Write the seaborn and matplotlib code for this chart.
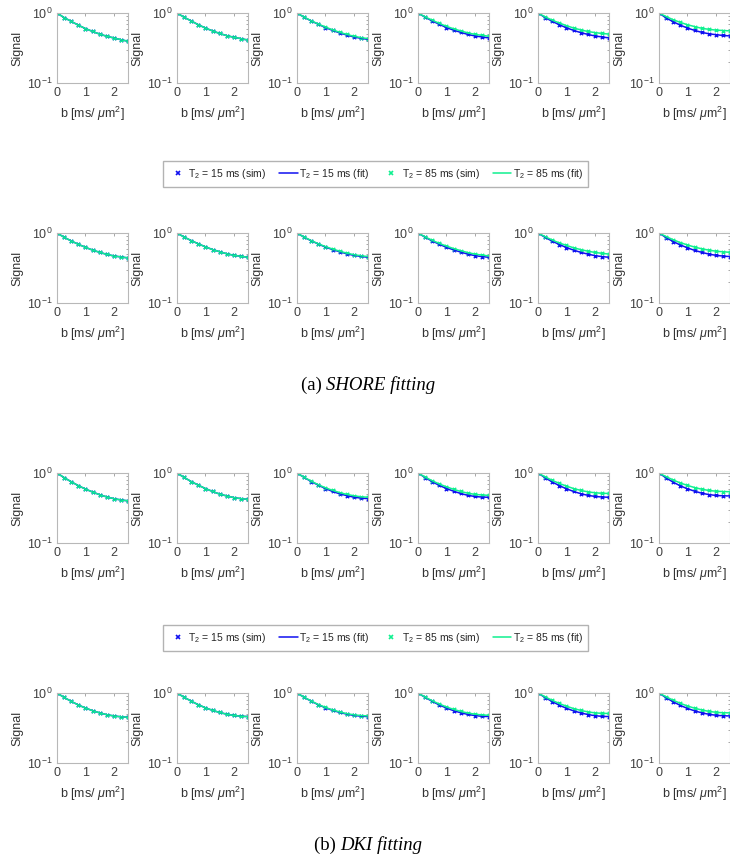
import numpy as np
import pandas as pd
import matplotlib
matplotlib.use("Agg")
import matplotlib.pyplot as plt
from matplotlib.lines import Line2D
from matplotlib.ticker import NullFormatter, LogLocator
import seaborn as sns

# b-values of the simulated points [ms/um^2]
b_values = [0.0, 0.25, 0.5, 0.75, 1.0, 1.25, 1.5, 1.75, 2.0, 2.25, 2.5]

legend_labels = [r"T$_2$ = 15 ms (sim)", r"T$_2$ = 15 ms (fit)",
                 r"T$_2$ = 85 ms (sim)", r"T$_2$ = 85 ms (fit)"]
captions = [("(a) ", "SHORE fitting"), ("(b) ", "DKI fitting")]

# signal curves, one list per column (6 columns)
shore_top_15 = [
    [1.0, 0.86, 0.76, 0.67, 0.60, 0.545, 0.50, 0.465, 0.44, 0.415, 0.395],
    [1.0, 0.87, 0.77, 0.68, 0.61, 0.555, 0.51, 0.475, 0.45, 0.43, 0.41],
    [1.0, 0.87, 0.77, 0.69, 0.62, 0.565, 0.52, 0.485, 0.455, 0.435, 0.42],
    [1.0, 0.87, 0.77, 0.69, 0.62, 0.57, 0.53, 0.495, 0.47, 0.455, 0.44],
    [1.0, 0.86, 0.76, 0.68, 0.615, 0.565, 0.525, 0.495, 0.47, 0.455, 0.44],
    [1.0, 0.85, 0.75, 0.67, 0.61, 0.565, 0.53, 0.505, 0.49, 0.478, 0.47],
]
shore_top_85 = [
    [1.0, 0.86, 0.76, 0.67, 0.60, 0.545, 0.50, 0.465, 0.44, 0.415, 0.395],
    [1.0, 0.87, 0.77, 0.68, 0.61, 0.555, 0.51, 0.475, 0.45, 0.43, 0.41],
    [1.0, 0.875, 0.775, 0.695, 0.63, 0.575, 0.53, 0.495, 0.465, 0.445, 0.43],
    [1.0, 0.88, 0.79, 0.71, 0.645, 0.595, 0.555, 0.52, 0.495, 0.48, 0.465],
    [1.0, 0.88, 0.79, 0.72, 0.66, 0.61, 0.575, 0.545, 0.525, 0.51, 0.50],
    [1.0, 0.89, 0.80, 0.735, 0.68, 0.64, 0.605, 0.585, 0.57, 0.562, 0.555],
]
shore_bot_15 = [
    [1.0, 0.87, 0.77, 0.69, 0.625, 0.57, 0.53, 0.495, 0.47, 0.455, 0.44],
    [1.0, 0.875, 0.78, 0.70, 0.635, 0.58, 0.54, 0.505, 0.48, 0.465, 0.45],
    [1.0, 0.87, 0.775, 0.695, 0.63, 0.58, 0.54, 0.505, 0.48, 0.463, 0.45],
    [1.0, 0.87, 0.77, 0.69, 0.625, 0.575, 0.535, 0.50, 0.475, 0.46, 0.45],
    [1.0, 0.865, 0.765, 0.685, 0.62, 0.57, 0.53, 0.50, 0.475, 0.46, 0.45],
    [1.0, 0.86, 0.755, 0.675, 0.615, 0.565, 0.53, 0.50, 0.48, 0.468, 0.46],
]
shore_bot_85 = [
    [1.0, 0.87, 0.77, 0.69, 0.625, 0.57, 0.53, 0.495, 0.47, 0.455, 0.44],
    [1.0, 0.875, 0.78, 0.70, 0.635, 0.58, 0.54, 0.505, 0.48, 0.465, 0.45],
    [1.0, 0.875, 0.78, 0.70, 0.64, 0.59, 0.55, 0.515, 0.49, 0.473, 0.46],
    [1.0, 0.88, 0.785, 0.71, 0.65, 0.60, 0.56, 0.525, 0.50, 0.483, 0.47],
    [1.0, 0.885, 0.795, 0.72, 0.665, 0.615, 0.58, 0.55, 0.528, 0.512, 0.50],
    [1.0, 0.89, 0.80, 0.73, 0.675, 0.63, 0.595, 0.57, 0.55, 0.538, 0.53],
]
dki_top_15 = [
    [1.0, 0.86, 0.75, 0.66, 0.59, 0.535, 0.49, 0.455, 0.43, 0.412, 0.40],
    [1.0, 0.865, 0.755, 0.67, 0.60, 0.545, 0.50, 0.47, 0.445, 0.43, 0.42],
    [1.0, 0.865, 0.755, 0.67, 0.60, 0.545, 0.505, 0.475, 0.452, 0.438, 0.43],
    [1.0, 0.86, 0.75, 0.665, 0.60, 0.55, 0.51, 0.48, 0.462, 0.453, 0.45],
    [1.0, 0.855, 0.745, 0.66, 0.595, 0.545, 0.507, 0.48, 0.463, 0.454, 0.45],
    [1.0, 0.85, 0.74, 0.655, 0.595, 0.55, 0.515, 0.492, 0.478, 0.472, 0.47],
]
dki_top_85 = [
    [1.0, 0.86, 0.75, 0.66, 0.59, 0.535, 0.49, 0.455, 0.43, 0.412, 0.40],
    [1.0, 0.865, 0.755, 0.67, 0.60, 0.545, 0.50, 0.47, 0.445, 0.43, 0.42],
    [1.0, 0.87, 0.765, 0.68, 0.615, 0.565, 0.525, 0.495, 0.473, 0.458, 0.45],
    [1.0, 0.875, 0.775, 0.695, 0.635, 0.585, 0.545, 0.515, 0.495, 0.485, 0.48],
    [1.0, 0.88, 0.785, 0.71, 0.65, 0.60, 0.565, 0.538, 0.522, 0.513, 0.51],
    [1.0, 0.885, 0.795, 0.72, 0.665, 0.62, 0.587, 0.563, 0.55, 0.543, 0.54],
]
dki_bot_15 = [
    [1.0, 0.865, 0.76, 0.675, 0.61, 0.56, 0.52, 0.49, 0.47, 0.457, 0.45],
    [1.0, 0.87, 0.765, 0.68, 0.615, 0.565, 0.527, 0.498, 0.478, 0.466, 0.46],
    [1.0, 0.868, 0.763, 0.68, 0.615, 0.566, 0.528, 0.499, 0.479, 0.467, 0.46],
    [1.0, 0.865, 0.76, 0.675, 0.61, 0.56, 0.523, 0.495, 0.476, 0.465, 0.46],
    [1.0, 0.86, 0.755, 0.67, 0.605, 0.556, 0.52, 0.493, 0.474, 0.464, 0.46],
    [1.0, 0.855, 0.75, 0.665, 0.603, 0.556, 0.522, 0.497, 0.481, 0.473, 0.47],
]
dki_bot_85 = [
    [1.0, 0.865, 0.76, 0.675, 0.61, 0.56, 0.52, 0.49, 0.47, 0.457, 0.45],
    [1.0, 0.87, 0.765, 0.68, 0.615, 0.565, 0.527, 0.498, 0.478, 0.466, 0.46],
    [1.0, 0.872, 0.768, 0.685, 0.622, 0.573, 0.536, 0.507, 0.488, 0.476, 0.47],
    [1.0, 0.875, 0.775, 0.695, 0.632, 0.584, 0.546, 0.518, 0.498, 0.486, 0.48],
    [1.0, 0.88, 0.785, 0.708, 0.648, 0.60, 0.565, 0.538, 0.52, 0.512, 0.51],
    [1.0, 0.882, 0.788, 0.712, 0.653, 0.607, 0.573, 0.547, 0.53, 0.522, 0.52],
]

col_15 = "#1010f0"
col_85 = "#10f090"

sns.set_theme(style="white")
plt.rcParams['font.family'] = ['Liberation Sans', 'DejaVu Sans']
plt.rcParams['mathtext.fontset'] = 'custom'
plt.rcParams['mathtext.rm'] = 'Liberation Sans'
plt.rcParams['mathtext.it'] = 'Liberation Sans:italic'

W, H = 730, 857
fig = plt.figure(figsize=(W / 100, H / 100), dpi=100)

col_left = [57, 177, 297, 418, 538, 659]
row_top = [13, 233, 473, 693]
ax_w, ax_h = 71, 70

rows = [(shore_top_15, shore_top_85), (shore_bot_15, shore_bot_85),
        (dki_top_15, dki_top_85), (dki_bot_15, dki_bot_85)]

for r, (c15, c85) in enumerate(rows):
    for j in range(6):
        ax = fig.add_axes([col_left[j] / W, 1 - (row_top[r] + ax_h) / H, ax_w / W, ax_h / H])
        for vals, col in [(c15[j], col_15), (c85[j], col_85)]:
            df = pd.DataFrame({"b": b_values, "S": vals})
            sns.lineplot(data=df, x="b", y="S", color=col, linewidth=1.1, ax=ax)
            sns.scatterplot(data=df, x="b", y="S", color=col, marker="x", s=6,
                            linewidth=1.0, ax=ax)
        ax.set_yscale("log")
        ax.set_xlim(0, 2.5)
        ax.set_ylim(0.1, 1)
        ax.set_xticks([0, 1, 2])
        ax.set_xticklabels(["0", "1", "2"])
        ax.set_yticks([0.1, 1])
        ax.yaxis.set_minor_locator(LogLocator(base=10, subs=np.arange(2, 10)))
        ax.yaxis.set_minor_formatter(NullFormatter())
        ax.tick_params(which="both", direction="in", top=True, right=True,
                       colors="0.6", labelcolor="0.25", labelsize=9, width=0.6)
        ax.tick_params(which="major", length=2.5, pad=3)
        ax.tick_params(which="minor", length=1.5)
        for sp in ax.spines.values():
            sp.set_color("0.72")
            sp.set_linewidth(0.8)
        ax.set_xlabel(r"b [ms/ $\mu$m$^2$]", fontsize=9, color="0.2", labelpad=4)
        ax.set_ylabel("Signal", fontsize=9, color="0.2", labelpad=3)

# legends
handles = [
    Line2D([], [], color=col_15, marker="x", linestyle="none", markersize=2.5, markeredgewidth=1.2),
    Line2D([], [], color=col_15, linewidth=1.1),
    Line2D([], [], color=col_85, marker="x", linestyle="none", markersize=2.5, markeredgewidth=1.2),
    Line2D([], [], color=col_85, linewidth=1.1),
]
for yc in [174, 638]:
    fig.legend(handles, legend_labels, loc="center", ncol=4,
               bbox_to_anchor=(375.5 / W, 1 - yc / H), fontsize=7.5, frameon=True,
               fancybox=False, edgecolor="0.7", framealpha=1, handlelength=1.75,
               handletextpad=0.1, columnspacing=1.3, borderpad=0.55)

# captions: normal label + italic title
fig.canvas.draw()
renderer = fig.canvas.get_renderer()
for (lab, title), yc in zip(captions, [385, 845]):
    t1 = fig.text(0, 1 - yc / H, lab, family="Liberation Serif", fontsize=13.5,
                  va="center", ha="left", color="black")
    t2 = fig.text(0, 1 - yc / H, title, family="Liberation Serif", style="italic",
                  fontsize=13.5, va="center", ha="left", color="black")
    w1 = t1.get_window_extent(renderer).width
    w2 = t2.get_window_extent(renderer).width
    x0 = 368 - (w1 + w2) / 2
    t1.set_x(x0 / W)
    t2.set_x((x0 + w1) / W)

fig.savefig("out.png", dpi=100)
